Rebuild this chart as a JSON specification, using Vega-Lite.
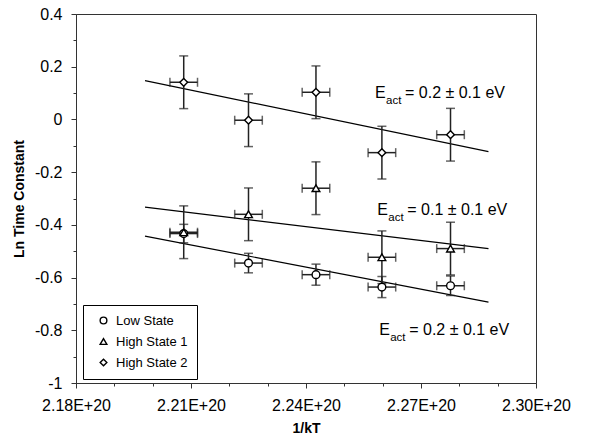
{
  "$schema": "https://vega.github.io/schema/vega-lite/v6.json",
  "autosize": "none",
  "width": 460,
  "height": 369,
  "padding": {"left": 76, "top": 14, "right": 57, "bottom": 55},
  "background": "white",
  "config": {
    "view": {"stroke": "#333", "strokeWidth": 1},
    "font": "Liberation Sans",
    "axis": {
      "domainColor": "#333",
      "tickColor": "#333",
      "labelColor": "black",
      "titleColor": "black",
      "labelFont": "Liberation Sans",
      "titleFont": "Liberation Sans",
      "labelFontSize": 16,
      "titleFontSize": 14,
      "titleFontWeight": "bold",
      "labelOverlap": false,
      "labelFlush": false,
      "grid": false
    },
    "axisX": {
      "title": "1/kT",
      "values": [2.18e20, 2.1825e20, 2.185e20, 2.1875e20, 2.19e20, 2.1925e20, 2.195e20, 2.1975e20, 2.2e20, 2.2025e20, 2.205e20, 2.2075e20, 2.21e20, 2.2125e20, 2.215e20, 2.2175e20, 2.22e20, 2.2225e20, 2.225e20, 2.2275e20, 2.23e20, 2.2325e20, 2.235e20, 2.2375e20, 2.24e20, 2.2425e20, 2.245e20, 2.2475e20, 2.25e20, 2.2525e20, 2.255e20, 2.2575e20, 2.26e20, 2.2625e20, 2.265e20, 2.2675e20, 2.27e20, 2.2725e20, 2.275e20, 2.2775e20, 2.28e20, 2.2825e20, 2.285e20, 2.2875e20, 2.29e20, 2.2925e20, 2.295e20, 2.2975e20, 2.3e20],
      "labelExpr": "abs((datum.value - 2.18e20) / 3e18 - round((datum.value - 2.18e20) / 3e18)) < 0.01 ? format(datum.value / 1e20, '.2f') + 'E+20' : ''",
      "tickSize": {"condition": {"test": "abs((datum.value - 2.18e20) / 3e18 - round((datum.value - 2.18e20) / 3e18)) < 0.01", "value": 5}, "value": 3},
      "labelPadding": 9,
      "titlePadding": 8
    },
    "axisY": {
      "title": "Ln Time Constant",
      "values": [-1, -0.95, -0.9, -0.85, -0.8, -0.75, -0.7, -0.65, -0.6, -0.55, -0.5, -0.45, -0.4, -0.35, -0.3, -0.25, -0.2, -0.15, -0.1, -0.05, 0, 0.05, 0.1, 0.15, 0.2, 0.25, 0.3, 0.35, 0.4],
      "labelExpr": "abs(datum.value * 5 - round(datum.value * 5)) < 0.01 ? (datum.value < -0.001 ? '-' : '') + format(abs(datum.value), '.1~f') : ''",
      "tickSize": {"condition": {"test": "abs(datum.value * 5 - round(datum.value * 5)) < 0.01", "value": 5}, "value": 3},
      "labelPadding": 9,
      "titlePadding": 8
    },
    "legend": {
      "orient": "none",
      "legendX": 7,
      "legendY": 291,
      "strokeColor": "black",
      "padding": 9,
      "symbolOffset": 5,
      "symbolSize": 45,
      "symbolStrokeWidth": 1.4,
      "labelFont": "Liberation Sans",
      "labelFontSize": 13,
      "labelColor": "black",
      "labelOffset": 6,
      "rowPadding": 7,
      "fillColor": "white"
    }
  },
  "datasets": {
    "points": [
      {"series": "Low State", "x": 2.2081e20, "y": -0.433, "ylo": -0.468, "yhi": -0.398, "xlo": 2.2045e20, "xhi": 2.2117e20},
      {"series": "Low State", "x": 2.2250e20, "y": -0.545, "ylo": -0.582, "yhi": -0.508, "xlo": 2.2214e20, "xhi": 2.2286e20},
      {"series": "Low State", "x": 2.2426e20, "y": -0.589, "ylo": -0.629, "yhi": -0.549, "xlo": 2.2390e20, "xhi": 2.2462e20},
      {"series": "Low State", "x": 2.2598e20, "y": -0.636, "ylo": -0.676, "yhi": -0.596, "xlo": 2.2562e20, "xhi": 2.2634e20},
      {"series": "Low State", "x": 2.2777e20, "y": -0.631, "ylo": -0.668, "yhi": -0.594, "xlo": 2.2741e20, "xhi": 2.2813e20},
      {"series": "High State 1", "x": 2.2081e20, "y": -0.428, "ylo": -0.528, "yhi": -0.328, "xlo": 2.2045e20, "xhi": 2.2117e20},
      {"series": "High State 1", "x": 2.2250e20, "y": -0.360, "ylo": -0.460, "yhi": -0.260, "xlo": 2.2214e20, "xhi": 2.2286e20},
      {"series": "High State 1", "x": 2.2426e20, "y": -0.261, "ylo": -0.361, "yhi": -0.161, "xlo": 2.2390e20, "xhi": 2.2462e20},
      {"series": "High State 1", "x": 2.2598e20, "y": -0.523, "ylo": -0.623, "yhi": -0.423, "xlo": 2.2562e20, "xhi": 2.2634e20},
      {"series": "High State 1", "x": 2.2777e20, "y": -0.490, "ylo": -0.590, "yhi": -0.390, "xlo": 2.2741e20, "xhi": 2.2813e20},
      {"series": "High State 2", "x": 2.2081e20, "y": 0.141, "ylo": 0.041, "yhi": 0.241, "xlo": 2.2045e20, "xhi": 2.2117e20},
      {"series": "High State 2", "x": 2.2250e20, "y": -0.003, "ylo": -0.103, "yhi": 0.097, "xlo": 2.2214e20, "xhi": 2.2286e20},
      {"series": "High State 2", "x": 2.2426e20, "y": 0.103, "ylo": 0.003, "yhi": 0.203, "xlo": 2.2390e20, "xhi": 2.2462e20},
      {"series": "High State 2", "x": 2.2598e20, "y": -0.126, "ylo": -0.226, "yhi": -0.026, "xlo": 2.2562e20, "xhi": 2.2634e20},
      {"series": "High State 2", "x": 2.2777e20, "y": -0.058, "ylo": -0.158, "yhi": 0.042, "xlo": 2.2741e20, "xhi": 2.2813e20}
    ],
    "fits": [
      {"series": "Low State", "x": 2.198e20, "y": -0.443},
      {"series": "Low State", "x": 2.2876e20, "y": -0.693},
      {"series": "High State 1", "x": 2.198e20, "y": -0.333},
      {"series": "High State 1", "x": 2.2876e20, "y": -0.490},
      {"series": "High State 2", "x": 2.198e20, "y": 0.147},
      {"series": "High State 2", "x": 2.2876e20, "y": -0.122}
    ],
    "notes": [
      {"x": 2.258e20, "y": 0.080, "text": "= 0.2 ± 0.1 eV"},
      {"x": 2.2586e20, "y": -0.361, "text": "= 0.1 ± 0.1 eV"},
      {"x": 2.2591e20, "y": -0.819, "text": "= 0.2 ± 0.1 eV"}
    ]
  },
  "layer": [
    {
      "data": {"name": "fits"},
      "mark": {"type": "line", "color": "black", "strokeWidth": 1.2},
      "encoding": {
        "x": {"field": "x", "type": "quantitative", "title": "1/kT", "scale": {"domain": [2.18e20, 2.30e20], "nice": false, "zero": false}},
        "y": {"field": "y", "type": "quantitative", "title": "Ln Time Constant", "scale": {"domain": [-1, 0.4], "nice": false, "zero": false}},
        "detail": {"field": "series"}
      }
    },
    {
      "data": {"name": "points"},
      "mark": {"type": "rule", "color": "#222", "strokeWidth": 1.5},
      "encoding": {
        "x": {"field": "x", "type": "quantitative", "title": "1/kT"},
        "y": {"field": "ylo", "type": "quantitative", "title": "Ln Time Constant"},
        "y2": {"field": "yhi"}
      }
    },
    {
      "data": {"name": "points"},
      "mark": {"type": "rule", "color": "#222", "strokeWidth": 1.5},
      "encoding": {
        "y": {"field": "y", "type": "quantitative", "title": "Ln Time Constant"},
        "x": {"field": "xlo", "type": "quantitative", "title": "1/kT"},
        "x2": {"field": "xhi"}
      }
    },
    {
      "data": {"name": "points"},
      "mark": {"type": "tick", "orient": "horizontal", "color": "#222", "size": 9, "thickness": 1.5},
      "encoding": {
        "x": {"field": "x", "type": "quantitative", "title": "1/kT"},
        "y": {"field": "ylo", "type": "quantitative", "title": "Ln Time Constant"}
      }
    },
    {
      "data": {"name": "points"},
      "mark": {"type": "tick", "orient": "horizontal", "color": "#222", "size": 9, "thickness": 1.5},
      "encoding": {
        "x": {"field": "x", "type": "quantitative", "title": "1/kT"},
        "y": {"field": "yhi", "type": "quantitative", "title": "Ln Time Constant"}
      }
    },
    {
      "data": {"name": "points"},
      "mark": {"type": "tick", "orient": "vertical", "color": "#222", "size": 9, "thickness": 1.5},
      "encoding": {
        "x": {"field": "xlo", "type": "quantitative", "title": "1/kT"},
        "y": {"field": "y", "type": "quantitative", "title": "Ln Time Constant"}
      }
    },
    {
      "data": {"name": "points"},
      "mark": {"type": "tick", "orient": "vertical", "color": "#222", "size": 9, "thickness": 1.5},
      "encoding": {
        "x": {"field": "xhi", "type": "quantitative", "title": "1/kT"},
        "y": {"field": "y", "type": "quantitative", "title": "Ln Time Constant"}
      }
    },
    {
      "data": {"name": "points"},
      "transform": [{"filter": "datum.series == 'Low State'"}],
      "mark": {"type": "point", "shape": "circle", "filled": true, "color": "white", "opacity": 1, "size": 60},
      "encoding": {
        "x": {"field": "x", "type": "quantitative", "title": "1/kT"},
        "y": {"field": "y", "type": "quantitative", "title": "Ln Time Constant"}
      }
    },
    {
      "data": {"name": "points"},
      "transform": [{"filter": "datum.series == 'High State 1'"}],
      "mark": {"type": "point", "shape": "triangle-up", "filled": true, "color": "white", "opacity": 1, "size": 60},
      "encoding": {
        "x": {"field": "x", "type": "quantitative", "title": "1/kT"},
        "y": {"field": "y", "type": "quantitative", "title": "Ln Time Constant"}
      }
    },
    {
      "data": {"name": "points"},
      "transform": [{"filter": "datum.series == 'High State 2'"}],
      "mark": {"type": "point", "shape": "diamond", "filled": true, "color": "white", "opacity": 1, "size": 60},
      "encoding": {
        "x": {"field": "x", "type": "quantitative", "title": "1/kT"},
        "y": {"field": "y", "type": "quantitative", "title": "Ln Time Constant"}
      }
    },
    {
      "data": {"name": "points"},
      "mark": {"type": "point", "filled": false, "color": "black", "strokeWidth": 1.4, "opacity": 1, "size": 60},
      "encoding": {
        "x": {"field": "x", "type": "quantitative", "title": "1/kT"},
        "y": {"field": "y", "type": "quantitative", "title": "Ln Time Constant"},
        "shape": {
          "field": "series", "type": "nominal", "title": null,
          "scale": {"domain": ["Low State", "High State 1", "High State 2"], "range": ["circle", "triangle-up", "diamond"]}
        }
      }
    },
    {
      "data": {"name": "notes"},
      "mark": {"type": "text", "align": "left", "baseline": "alphabetic", "fontSize": 16, "font": "Liberation Sans", "color": "black"},
      "encoding": {
        "x": {"field": "x", "type": "quantitative", "title": "1/kT"},
        "y": {"field": "y", "type": "quantitative", "title": "Ln Time Constant"},
        "text": {"value": "E"}
      }
    },
    {
      "data": {"name": "notes"},
      "mark": {"type": "text", "align": "left", "baseline": "alphabetic", "fontSize": 11.5, "font": "Liberation Sans", "color": "black", "dx": 11, "dy": 6},
      "encoding": {
        "x": {"field": "x", "type": "quantitative", "title": "1/kT"},
        "y": {"field": "y", "type": "quantitative", "title": "Ln Time Constant"},
        "text": {"value": "act"}
      }
    },
    {
      "data": {"name": "notes"},
      "mark": {"type": "text", "align": "left", "baseline": "alphabetic", "fontSize": 16, "font": "Liberation Sans", "color": "black", "dx": 30},
      "encoding": {
        "x": {"field": "x", "type": "quantitative", "title": "1/kT"},
        "y": {"field": "y", "type": "quantitative", "title": "Ln Time Constant"},
        "text": {"field": "text"}
      }
    }
  ]
}
